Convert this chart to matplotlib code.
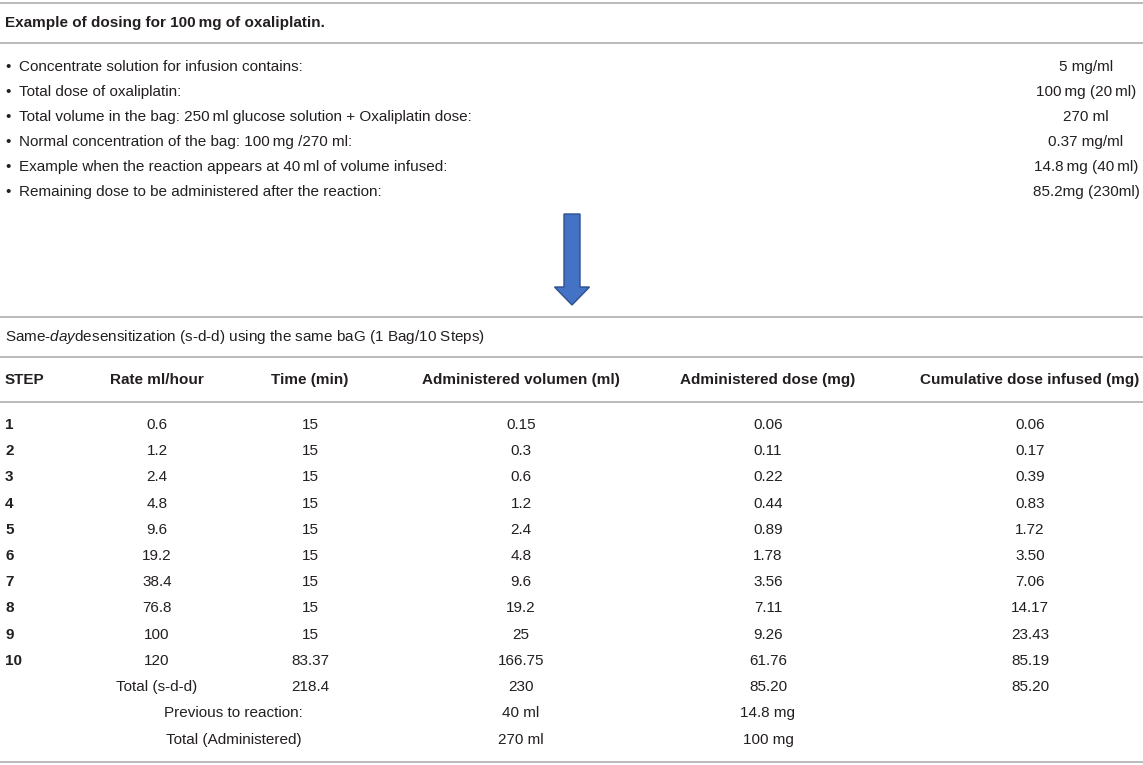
import matplotlib
matplotlib.use("Agg")
import matplotlib.pyplot as plt
from matplotlib.patches import FancyArrow

plt.rcParams['font.family'] = ['Liberation Sans', 'DejaVu Sans']
plt.rcParams['mathtext.fontset'] = 'custom'
plt.rcParams['mathtext.rm'] = 'Liberation Sans'
plt.rcParams['mathtext.it'] = 'Liberation Sans:italic'

# ---- data ----
title = "Example of dosing for 100\u2009mg of oxaliplatin."
bullet_items = [
    "Concentrate solution for infusion contains:",
    "Total dose of oxaliplatin:",
    "Total volume in the bag: 250\u2009ml glucose solution + Oxaliplatin dose:",
    "Normal concentration of the bag: 100\u2009mg /270 ml:",
    "Example when the reaction appears at 40\u2009ml of volume infused:",
    "Remaining dose to be administered after the reaction:",
]
bullet_values = ["5 mg/ml", "100\u2009mg (20\u2009ml)", "270 ml", "0.37 mg/ml",
                 "14.8\u2009mg (40\u2009ml)", "85.2mg (230ml)"]
subtitle = "Same-$\\mathit{day}$desensitization (s-d-d) using the same baG (1 Bag/10 Steps)"
headers = ["STEP", "Rate ml/hour", "Time (min)", "Administered volumen (ml)",
           "Administered dose (mg)", "Cumulative dose infused (mg)"]
steps = ["1", "2", "3", "4", "5", "6", "7", "8", "9", "10"]
rate = ["0.6", "1.2", "2.4", "4.8", "9.6", "19.2", "38.4", "76.8", "100", "120"]
time_min = ["15", "15", "15", "15", "15", "15", "15", "15", "15", "83.37"]
volume = ["0.15", "0.3", "0.6", "1.2", "2.4", "4.8", "9.6", "19.2", "25", "166.75"]
dose = ["0.06", "0.11", "0.22", "0.44", "0.89", "1.78", "3.56", "7.11", "9.26", "61.76"]
cumulative = ["0.06", "0.17", "0.39", "0.83", "1.72", "3.50", "7.06", "14.17", "23.43", "85.19"]
total_row = ["Total (s-d-d)", "218.4", "230", "85.20", "85.20"]
previous_row = ["Previous to reaction:", "40 ml", "14.8 mg"]
admin_row = ["Total (Administered)", "270 ml", "100 mg"]

# ---- layout ----
W, H = 1143, 765
fig = plt.figure(figsize=(W / 100, H / 100), dpi=100)
ax = fig.add_axes([0, 0, 1, 1])
ax.set_xlim(0, W)
ax.set_ylim(H, 0)
ax.axis("off")

TXT = "#231f20"
LINE = "#b4b4b4"
FS = 11

def hline(y):
    ax.plot([0, W], [y, y], color=LINE, lw=1.3, solid_capstyle="butt")

def t(x, y, s, ha="center", bold=False, **kw):
    ax.text(x, y, s, ha=ha, va="center", fontsize=FS, color=TXT,
            fontweight="bold" if bold else "normal", **kw)

# top section
hline(3)
t(5, 23, title, ha="left", bold=True)
hline(43)
for i, (item, val) in enumerate(zip(bullet_items, bullet_values)):
    y = 67 + 25 * i
    t(8, y, "\u2022", ha="center")
    t(19, y, item, ha="left")
    t(1086, y, val)

# arrow
ax.add_patch(FancyArrow(572, 214, 0, 91, width=16, head_width=35, head_length=18,
                        length_includes_head=True, facecolor="#4472c4",
                        edgecolor="#2f4f8f", lw=1.0))

# table
hline(317)
t(5, 337, subtitle, ha="left")
hline(357)
col_x = [5, 157, 310, 521, 768, 1030]
for j, h in enumerate(headers):
    t(col_x[j], 380, h, ha="left" if j == 0 else "center", bold=True)
hline(402)
cols = [rate, time_min, volume, dose, cumulative]
for i in range(len(steps)):
    y = 425 + 26.2 * i
    t(col_x[0], y, steps[i], ha="left", bold=True)
    for j, c in enumerate(cols):
        t(col_x[j + 1], y, c[i])
y = 425 + 26.2 * len(steps)
for j, v in enumerate(total_row):
    t(col_x[j + 1], y, v)
mid = (col_x[1] + col_x[2]) / 2
t(mid, 713, previous_row[0])
t(col_x[3], 713, previous_row[1])
t(col_x[4], 713, previous_row[2])
t(mid, 740, admin_row[0])
t(col_x[3], 740, admin_row[1])
t(col_x[4], 740, admin_row[2])
hline(762)

fig.savefig("out.png", dpi=100, facecolor="white")
